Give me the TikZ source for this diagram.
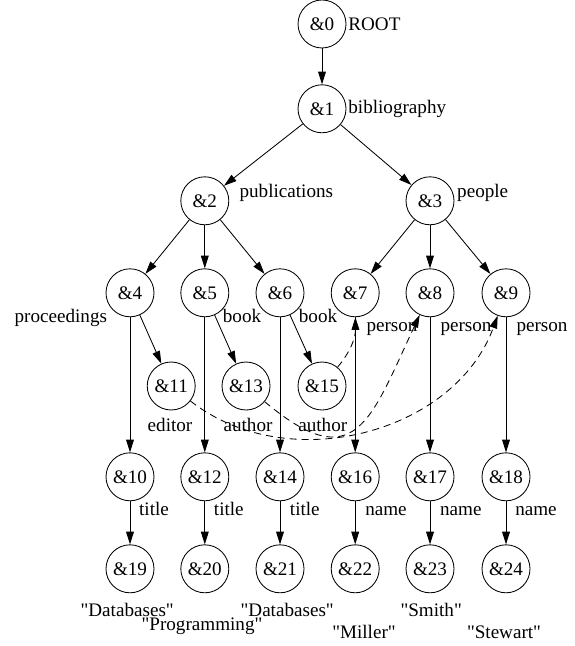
\documentclass[tikz,border=0pt]{standalone}
\usepackage{fontspec}
\setmainfont{Liberation Serif}[Ligatures=TeXOff]
\usepackage{tikz}
\usetikzlibrary{arrows.meta, positioning}
\newcommand{\sq}[1]{\symbol{34}#1\symbol{34}}

\begin{document}
\begin{tikzpicture}[line width=0.6pt,
    every node/.style={font=\fontsize{13.6}{16}\selectfont},
    obj/.style={draw, circle, minimum size=1.2cm, inner sep=0pt},
    lbl/.style={anchor=base, inner sep=0pt},
    link/.style={-{Triangle[length=9pt, width=5.5pt]}},
    xref/.style={-{Triangle[length=9pt, width=5.5pt]}, dash pattern=on 5pt off 3.5pt}]
        \useasboundingbox (0,0) rectangle (14.35,-16.15);

        % ROOT
        \node[obj] (n0) at (8.05,-0.6) {\&0};
        \node[obj] (n1) at (8.05,-2.72) {\&1};
        \node[lbl, anchor=base west] (l0) at (8.7,-0.77) {ROOT};
        \node[lbl, anchor=base west] (l1) at (8.7,-2.85) {bibliography};
        \draw[link] (n0)--(n1);

        % PUBLICATIONS / PEOPLE
        \node[obj] (n2) at (5.12,-5.02) {\&2};
        \node[obj] (n3) at (10.75,-5.02) {\&3};
        \node[lbl, anchor=base west] (l2) at (5.98,-4.95) {publications};
        \node[lbl, anchor=base west] (l3) at (11.42,-4.95) {people};
        \draw[link] (n1)--(n2);
        \draw[link] (n1)--(n3);

        % ENTRIES
        \node[obj] (n4) at (3.25,-7.32) {\&4};
        \node[obj] (n5) at (5.12,-7.32) {\&5};
        \node[obj] (n6) at (7.0,-7.32) {\&6};
        \node[obj] (n7) at (8.88,-7.32) {\&7};
        \node[obj] (n8) at (10.75,-7.32) {\&8};
        \node[obj] (n9) at (12.65,-7.32) {\&9};
        \node[lbl] (l4) at (1.52,-8.07) {proceedings};
        \node[lbl] (l5) at (6.05,-8.07) {book};
        \node[lbl] (l6) at (7.95,-8.07) {book};
        \node[lbl] (l7) at (9.8,-8.29) {person};
        \node[lbl] (l8) at (11.65,-8.29) {person};
        \node[lbl] (l9) at (13.55,-8.29) {person};
        \draw[link] (n2)--(n4);
        \draw[link] (n2)--(n5);
        \draw[link] (n2)--(n6);
        \draw[link] (n3)--(n7);
        \draw[link] (n3)--(n8);
        \draw[link] (n3)--(n9);

        % EDITOR / AUTHORS
        \node[obj] (n11) at (4.28,-9.65) {\&11};
        \node[obj] (n13) at (6.15,-9.65) {\&13};
        \node[obj] (n15) at (8.05,-9.65) {\&15};
        \node[lbl] (l11) at (4.25,-10.78) {editor};
        \node[lbl] (l13) at (6.2,-10.78) {author};
        \node[lbl] (l15) at (8.07,-10.78) {author};
        \draw[link] (n4)--(n11);
        \draw[link] (n5)--(n13);
        \draw[link] (n6)--(n15);

        % TITLES / NAMES
        \node[obj] (n10) at (3.25,-11.92) {\&10};
        \node[obj] (n12) at (5.12,-11.92) {\&12};
        \node[obj] (n14) at (7.0,-11.92) {\&14};
        \node[obj] (n16) at (8.88,-11.92) {\&16};
        \node[obj] (n17) at (10.75,-11.92) {\&17};
        \node[obj] (n18) at (12.65,-11.92) {\&18};
        \draw[link] (n4)--(n10);
        \draw[link] (n5)--(n12);
        \draw[link] (n6)--(n14);
        \draw[link] (n7)--(n16);
        \draw[link] (n8)--(n17);
        \draw[link] (n9)--(n18);

        % VALUES
        \node[obj] (n19) at (3.25,-14.22) {\&19};
        \node[obj] (n20) at (5.12,-14.22) {\&20};
        \node[obj] (n21) at (7.0,-14.22) {\&21};
        \node[obj] (n22) at (8.88,-14.22) {\&22};
        \node[obj] (n23) at (10.75,-14.22) {\&23};
        \node[obj] (n24) at (12.65,-14.22) {\&24};
        \node[lbl] (l19) at (3.85,-12.89) {title};
        \node[lbl] (l20) at (5.72,-12.89) {title};
        \node[lbl] (l21) at (7.62,-12.89) {title};
        \node[lbl] (l22) at (9.65,-12.89) {name};
        \node[lbl] (l23) at (11.52,-12.89) {name};
        \node[lbl] (l24) at (13.4,-12.89) {name};
        \draw[link] (n10)--(n19);
        \draw[link] (n12)--(n20);
        \draw[link] (n14)--(n21);
        \draw[link] (n16)--(n22);
        \draw[link] (n17)--(n23);
        \draw[link] (n18)--(n24);
        \node[lbl] (v19) at (3.18,-15.4) {\sq{Databases}};
        \node[lbl] (v20) at (5.05,-15.75) {\sq{Programming}};
        \node[lbl] (v21) at (7.18,-15.4) {\sq{Databases}};
        \node[lbl] (v22) at (9.1,-15.95) {\sq{Miller}};
        \node[lbl] (v23) at (10.78,-15.4) {\sq{Smith}};
        \node[lbl] (v24) at (12.6,-15.95) {\sq{Stewart}};

        % REFERENCES
        \draw[xref] (n15) to[bend right=20] (n7);
        \draw[xref] (n13) to[out=-40, in=-115, looseness=1.7] (n8);
        \draw[xref] (n11) to[out=-38, in=-110] (n9);
      \end{tikzpicture}
\end{document}
